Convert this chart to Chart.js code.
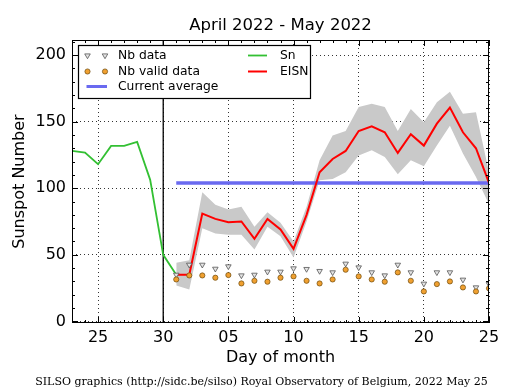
<!DOCTYPE html>
<html>
<head>
<meta charset="utf-8">
<title>Sunspot Number</title>
<script src="https://cdn.jsdelivr.net/npm/chart.js@4.4.0/dist/chart.umd.min.js"></script>
<style>
  body { margin: 0; background: #fff; }
</style>
</head>
<body>
<canvas id="sunspotChart" width="515" height="390"></canvas>
<script>
// x is a day index: 0 = Apr 23, 7 = Apr 30, 8 = May 1 ... 32 = May 25
const dayLabels = ['23', '24', '25', '26', '27', '28', '29', '30',
    '01', '02', '03', '04', '05', '06', '07', '08', '09', '10', '11', '12', '13',
    '14', '15', '16', '17', '18', '19', '20', '21', '22', '23', '24', '25'];
const xTickDays = [2, 7, 12, 17, 22, 27, 32];
const yTicks = [0, 50, 100, 150, 200];
const monthSplitDay = 7;   // Apr 30

// Sn, Apr 23 .. May 1
const snStart = 0;
const snValues = [128, 126.8, 118, 131.8, 131.8, 134.8, 106.3, 50, 35];

// EISN and its error band, May 1 .. May 25
const eisnStart = 8;
const eisnValues = [35, 35, 81, 77, 74.5, 75, 62, 77, 69, 54.5, 80, 112, 122,
    128, 143, 146.5, 142, 126.5, 140.5, 132, 148.5, 160.5, 142, 130, 104];
const eisnUpper = [44, 46, 97, 87.5, 84, 86, 71, 82, 74, 60, 86, 121, 139.5,
    143, 161, 163.5, 161, 143, 159.5, 149.5, 164.5, 172.5, 156, 157, 112];
const eisnLower = [27, 24, 70, 66, 65, 65, 54, 71, 64, 48, 75, 106, 107,
    112, 124.5, 128.5, 123.5, 110.5, 121, 116.5, 132, 147, 126, 108.5, 88];

// station counts, May 1 .. May 25
const nbData = [35, 42.5, 42.5, 39.5, 41.3, 34.5, 35, 37.3, 37.3, 39.8, 39.3, 37.8, 36.8,
    43.3, 40.5, 36.8, 34.5, 42.5, 36.8, 28.3, 36.8, 36.8, 31.3, 25.5, 28];
const nbValid = [31.5, 34.5, 34.5, 32.8, 34.8, 28.5, 30.5, 29.8, 32.8, 33.8, 30.5, 28.5, 31.5,
    38.8, 33.8, 31.5, 29.8, 36.8, 30.5, 22.5, 28, 30, 25.5, 22.5, 24.8];

const currentAverage = 104;

const yMin = -1.2, yMax = 211.3;

function toPoints(start, values) {
    return values.map((v, i) => ({ x: start + i, y: v }));
}

const GREEN = '#33c033', RED = '#ff0000', BLUE = '#6a6af0', BAND = '#c9c9c9';
const TRI_FILL = '#e4e4e4', TRI_EDGE = '#555555', DOT_FILL = '#f0a030', DOT_EDGE = '#6b4a10';

function drawTriangle(ctx, x, y, r) {
    ctx.beginPath();
    ctx.moveTo(x - r * 0.87, y - r * 0.5);
    ctx.lineTo(x + r * 0.87, y - r * 0.5);
    ctx.lineTo(x, y + r);
    ctx.closePath();
    ctx.fillStyle = TRI_FILL; ctx.fill();
    ctx.strokeStyle = TRI_EDGE; ctx.lineWidth = 0.8; ctx.stroke();
}
function drawDot(ctx, x, y, r) {
    ctx.beginPath();
    ctx.arc(x, y, r, 0, Math.PI * 2);
    ctx.fillStyle = DOT_FILL; ctx.fill();
    ctx.strokeStyle = DOT_EDGE; ctx.lineWidth = 0.7; ctx.stroke();
}
function hline(ctx, x1, x2, y, color, w) {
    ctx.beginPath();
    ctx.moveTo(x1, y); ctx.lineTo(x2, y);
    ctx.strokeStyle = color; ctx.lineWidth = w; ctx.stroke();
}

// frame, inward ticks, title, legend and footer
const decorations = {
    id: 'decorations',
    afterDraw(chart) {
        const { ctx, chartArea: a, scales: { x, y } } = chart;
        ctx.save();
        ctx.strokeStyle = '#000';
        ctx.lineWidth = 1;
        ctx.strokeRect(a.left + 0.5, a.top + 0.5, a.width - 1, a.height - 1);

        ctx.beginPath();
        for (let d = x.min; d <= x.max; d++) {
            const px = Math.round(x.getPixelForValue(d)) + 0.5;
            const len = xTickDays.includes(d) ? 6 : 3;
            ctx.moveTo(px, a.bottom); ctx.lineTo(px, a.bottom - len);
            ctx.moveTo(px, a.top); ctx.lineTo(px, a.top + len);
        }
        for (let v = 0; v <= yMax; v += 10) {
            const py = Math.round(y.getPixelForValue(v)) + 0.5;
            const len = v % 50 === 0 ? 6 : 3;
            ctx.moveTo(a.left, py); ctx.lineTo(a.left + len, py);
            ctx.moveTo(a.right, py); ctx.lineTo(a.right - len, py);
        }
        ctx.stroke();

        // title
        ctx.fillStyle = '#000';
        ctx.font = '16.5px "DejaVu Sans"';
        ctx.textAlign = 'center';
        ctx.textBaseline = 'middle';
        ctx.fillText('April 2022 - May 2022', (a.left + a.right) / 2, 26);

        // legend
        const lx = 78.5, ly = 45.5, lw = 232, lh = 53;
        ctx.fillStyle = '#fff';
        ctx.fillRect(lx, ly, lw, lh);
        ctx.strokeStyle = '#000';
        ctx.lineWidth = 1.2;
        ctx.strokeRect(lx, ly, lw, lh);
        const rows = [55.5, 71.5, 86.5];
        drawTriangle(ctx, 87.5, rows[0], 3.2);
        drawTriangle(ctx, 105, rows[0], 3.2);
        drawDot(ctx, 87.5, rows[1], 2.6);
        drawDot(ctx, 105, rows[1], 2.6);
        hline(ctx, 86.5, 107, rows[2], BLUE, 3);
        hline(ctx, 248, 267, rows[0], GREEN, 1.8);
        hline(ctx, 248, 267, rows[1], RED, 2);
        ctx.fillStyle = '#000';
        ctx.font = '12.3px "DejaVu Sans"';
        ctx.textAlign = 'left';
        ctx.fillText('Nb data', 118, rows[0]);
        ctx.fillText('Nb valid data', 118, rows[1]);
        ctx.fillText('Current average', 118, rows[2]);
        ctx.fillText('Sn', 280, rows[0]);
        ctx.fillText('EISN', 280, rows[1]);

        // footer
        ctx.font = '11px "DejaVu Serif"';
        ctx.textAlign = 'center';
        ctx.fillText('SILSO graphics (http://sidc.be/silso) Royal Observatory of Belgium, 2022 May 25', 261.5, 382);
        ctx.restore();
    }
};

Chart.defaults.font.family = '"DejaVu Sans"';
Chart.defaults.color = '#000';

const ctx = document.getElementById('sunspotChart').getContext('2d');
const sunspotChart = new Chart(ctx, {
    type: 'line',
    data: {
        datasets: [
            {
                label: 'EISN upper',
                data: toPoints(eisnStart, eisnUpper),
                borderWidth: 0, pointRadius: 0,
                backgroundColor: BAND,
                fill: '+1',
                order: 6
            },
            {
                label: 'EISN lower',
                data: toPoints(eisnStart, eisnLower),
                borderWidth: 0, pointRadius: 0,
                fill: false,
                order: 6
            },
            {
                label: 'Current average',
                data: [{ x: eisnStart, y: currentAverage }, { x: dayLabels.length - 1, y: currentAverage }],
                borderColor: BLUE, borderWidth: 3.5, pointRadius: 0,
                order: 5
            },
            {
                label: 'Month split',
                data: [{ x: monthSplitDay, y: yMin }, { x: monthSplitDay, y: yMax }],
                borderColor: '#000', borderWidth: 1.3, pointRadius: 0,
                order: 5
            },
            {
                label: 'Sn',
                data: toPoints(snStart, snValues),
                borderColor: GREEN, borderWidth: 1.8, pointRadius: 0,
                order: 3
            },
            {
                label: 'EISN',
                data: toPoints(eisnStart, eisnValues),
                borderColor: RED, borderWidth: 2, pointRadius: 0,
                order: 2
            },
            {
                label: 'Nb data',
                data: toPoints(eisnStart, nbData),
                showLine: false,
                pointStyle: 'triangle', pointRotation: 180, pointRadius: 3.2,
                backgroundColor: TRI_FILL, borderColor: TRI_EDGE, borderWidth: 0.8,
                order: 1
            },
            {
                label: 'Nb valid data',
                data: toPoints(eisnStart, nbValid),
                showLine: false,
                pointStyle: 'circle', pointRadius: 2.6,
                backgroundColor: DOT_FILL, borderColor: DOT_EDGE, borderWidth: 0.7,
                order: 0
            }
        ]
    },
    options: {
        responsive: false,
        animation: false,
        layout: { padding: { top: 40, right: 26, left: 0, bottom: 0 } },
        plugins: {
            legend: { display: false },
            tooltip: { enabled: false }
        },
        elements: { line: { tension: 0 } },
        scales: {
            x: {
                type: 'linear',
                min: 0,
                max: dayLabels.length - 1,
                afterBuildTicks: axis => { axis.ticks = xTickDays.map(v => ({ value: v })); },
                afterFit: scale => { scale.height = 67; },
                ticks: {
                    font: { size: 16 },
                    padding: 5,
                    maxRotation: 0,
                    autoSkip: false,
                    callback: value => dayLabels[value]
                },
                grid: { color: '#000', lineWidth: 0.8, drawTicks: false },
                border: { display: false, dash: [1, 3] },
                title: {
                    display: true,
                    text: 'Day of month',
                    font: { size: 16 },
                    padding: { top: 0, bottom: 23 }
                }
            },
            y: {
                type: 'linear',
                min: yMin,
                max: yMax,
                afterBuildTicks: axis => { axis.ticks = yTicks.map(v => ({ value: v })); },
                afterFit: scale => { scale.width = 72; },
                ticks: {
                    font: { size: 16 },
                    padding: 6
                },
                grid: { color: '#000', lineWidth: 0.8, drawTicks: false },
                border: { display: false, dash: [1, 3] },
                title: {
                    display: true,
                    text: 'Sunspot Number',
                    font: { size: 16 },
                    padding: { top: 10, bottom: 0 }
                }
            }
        }
    },
    plugins: [decorations]
});
</script>
</body>
</html>
